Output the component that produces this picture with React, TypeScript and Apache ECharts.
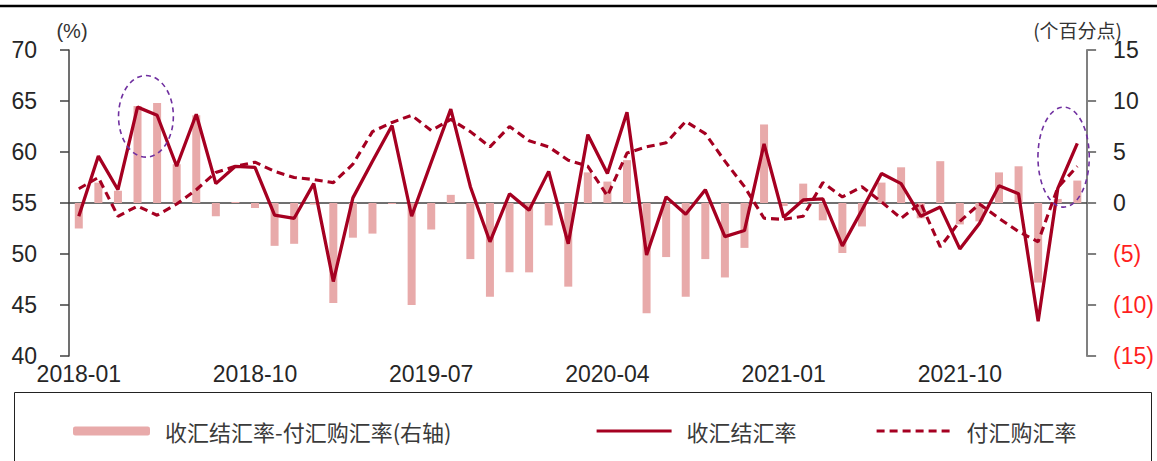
import React, { useEffect, useRef } from "react";
import * as echarts from "echarts";

// ---- data ----
const months = [
  "2018-01", "2018-02", "2018-03", "2018-04", "2018-05", "2018-06", "2018-07", "2018-08", "2018-09", "2018-10", "2018-11", "2018-12",
  "2019-01", "2019-02", "2019-03", "2019-04", "2019-05", "2019-06", "2019-07", "2019-08", "2019-09", "2019-10", "2019-11", "2019-12",
  "2020-01", "2020-02", "2020-03", "2020-04", "2020-05", "2020-06", "2020-07", "2020-08", "2020-09", "2020-10", "2020-11", "2020-12",
  "2021-01", "2021-02", "2021-03", "2021-04", "2021-05", "2021-06", "2021-07", "2021-08", "2021-09", "2021-10", "2021-11", "2021-12",
  "2022-01", "2022-02", "2022-03", "2022-04",
];

// 收汇结汇率 (%)
const settleRate = [
  53.7, 59.6, 56.3, 64.4, 63.6, 58.6, 63.7, 56.9, 58.6, 58.5, 53.8, 53.5,
  56.9, 47.3, 55.5, 59.1, 62.6, 53.7, 59.0, 64.2, 56.6, 51.2, 55.9, 54.3,
  58.1, 51.0, 61.7, 57.9, 63.9, 49.9, 55.6, 53.9, 56.3, 51.7, 52.3, 60.8,
  53.6, 55.3, 55.4, 50.8, 54.3, 57.9, 56.9, 53.7, 54.6, 50.5, 53.0, 56.7,
  55.9, 43.4, 56.4, 60.85,
];

// 付汇购汇率 (%)
const purchaseRate = [
  56.4, 57.5, 53.7, 54.7, 53.8, 54.9, 56.3, 58.0, 58.6, 59.0, 58.1, 57.5,
  57.3, 57.0, 58.8, 62.0, 62.9, 63.6, 62.1, 63.2, 62.0, 60.5, 62.5, 61.1,
  60.5, 59.2, 58.6, 55.7, 59.9, 60.5, 60.9, 63.0, 61.8, 59.1, 56.6, 53.5,
  53.4, 53.7, 57.0, 55.6, 56.6, 55.1, 53.5, 55.0, 50.7, 53.2, 54.9, 53.5,
  52.2, 51.2, 56.5, 58.6,
];

// 收汇结汇率-付汇购汇率 (个百分点, 右轴)
const rateGap = [
  -2.5, 2.0, 1.2, 9.5, 9.8, 3.8, 8.6, -1.3, 0.1, -0.5, -4.2, -4.0,
  -0.15, -9.8, -3.4, -3.0, -0.1, -10.0, -2.6, 0.8, -5.5, -9.2, -6.8, -6.8,
  -2.2, -8.2, 3.0, 2.1, 4.2, -10.8, -5.3, -9.2, -5.5, -7.3, -4.4, 7.7,
  -0.3, 1.9, -1.7, -4.9, -2.3, 2.0, 3.5, -1.5, 4.1, -2.1, -1.8, 3.0,
  3.6, -7.8, 0.4, 2.2,
];

const leftAxisRange = [40, 70, 5];
const rightAxisRange = [-15, 15, 5];

const seriesNames = ["收汇结汇率-付汇购汇率(右轴)", "收汇结汇率", "付汇购汇率"];
const leftUnit = "(%)";
const rightUnit = "(个百分点)";

// highlighted regions: [centre category index, centre value, half-width in categories, half-height in value]
const highlights = [
  [3.43, 63.5, 1.4, 4.0],
  [50.3, 59.5, 1.31, 4.9],
];

const LINE_COLOR = "#A50021";
const BAR_COLOR = "#E8AAAA";
const TEXT = "#262626";
const CJK = "'Noto Sans CJK SC', 'Noto Sans', sans-serif";
const LATIN = "'Liberation Sans', Arial, sans-serif";

export default function App() {
  const ref = useRef<HTMLDivElement>(null);

  useEffect(() => {
    if (!ref.current) return;
    const chart = echarts.init(ref.current, undefined, { renderer: "svg" });

    const legendText = {
      fontFamily: CJK,
      fontSize: 22,
      color: "#3a3a3a",
      padding: [0, 0, 0, 10],
    };
    const lineLegendExtras = {
      itemStyle: { opacity: 0, borderWidth: 0 },
      lineStyle: { width: 3.2 },
    };

    chart.setOption({
      animation: false,
      backgroundColor: "#ffffff",
      grid: { left: 69, right: 66, top: 50, bottom: 105, containLabel: false },
      legend: [
        {
          data: [seriesNames[0]],
          left: 68,
          top: 415,
          itemWidth: 77,
          itemHeight: 9,
          textStyle: legendText,
          selectedMode: false,
        },
        {
          data: [seriesNames[1]],
          left: 590,
          top: 415,
          itemWidth: 75,
          itemHeight: 9,
          textStyle: legendText,
          selectedMode: false,
          ...lineLegendExtras,
        },
        {
          data: [seriesNames[2]],
          left: 870,
          top: 415,
          itemWidth: 75,
          itemHeight: 9,
          textStyle: legendText,
          selectedMode: false,
          ...lineLegendExtras,
        },
      ],
      xAxis: {
        type: "category",
        data: months,
        boundaryGap: true,
        axisLine: { show: true, lineStyle: { color: "#404040", width: 1.5 } },
        axisTick: { show: false },
        axisLabel: {
          interval: 8,
          fontFamily: LATIN,
          fontSize: 23,
          lineHeight: 18,
          color: TEXT,
          margin: 9,
        },
        splitLine: { show: false },
      },
      yAxis: [
        {
          type: "value",
          position: "left",
          min: leftAxisRange[0],
          max: leftAxisRange[1],
          interval: leftAxisRange[2],
          axisLine: { show: true, lineStyle: { color: "#404040", width: 1.5 } },
          axisTick: { show: true, length: 9, lineStyle: { color: "#404040", width: 1.5 } },
          axisLabel: { fontFamily: LATIN, fontSize: 23, lineHeight: 16, color: TEXT, margin: 32 },
          splitLine: { show: false },
        },
        {
          type: "value",
          position: "right",
          min: rightAxisRange[0],
          max: rightAxisRange[1],
          interval: rightAxisRange[2],
          axisLine: { show: true, lineStyle: { color: "#808080", width: 2 } },
          axisTick: { show: true, length: 9, lineStyle: { color: "#808080", width: 2 } },
          axisLabel: {
            fontFamily: LATIN,
            fontSize: 23,
            lineHeight: 16,
            margin: 26,
            formatter: (v: number) => (v < 0 ? `(${Math.abs(v)})` : `${v}`),
            color: (v: any) => (Number(v) < 0 ? "#FF1F1F" : TEXT),
          },
          splitLine: { show: false },
        },
      ],
      series: [
        {
          name: seriesNames[0],
          type: "bar",
          yAxisIndex: 1,
          data: rateGap,
          barWidth: 8,
          itemStyle: { color: BAR_COLOR },
        },
        {
          name: seriesNames[1],
          type: "line",
          yAxisIndex: 0,
          data: settleRate,
          symbol: "none",
          lineStyle: { color: LINE_COLOR, width: 3.3 },
          itemStyle: { color: LINE_COLOR },
        },
        {
          name: seriesNames[2],
          type: "line",
          yAxisIndex: 0,
          data: purchaseRate,
          symbol: "none",
          lineStyle: { color: LINE_COLOR, width: 3.1, type: [8, 5] },
          itemStyle: { color: LINE_COLOR },
        },
      ],
    });

    const toPx = (idx: number, val: number) => {
      const i0 = Math.floor(idx);
      const f = idx - i0;
      const a = chart.convertToPixel({ xAxisIndex: 0, yAxisIndex: 0 }, [i0, val]) as number[];
      const b = chart.convertToPixel({ xAxisIndex: 0, yAxisIndex: 0 }, [i0 - 1, val]) as number[];
      const step = a[0] - b[0];
      return [a[0] + step * f, a[1]];
    };

    const ellipses = highlights.map(([ci, cv, hw, hh]) => {
      const c = toPx(ci, cv);
      const e = toPx(ci + hw, cv + hh);
      return {
        type: "ellipse",
        shape: { cx: c[0], cy: c[1], rx: Math.abs(e[0] - c[0]), ry: Math.abs(c[1] - e[1]) },
        style: { fill: "none", stroke: "#7030A0", lineWidth: 1.6, lineDash: [5, 4] },
        z: 20,
      };
    });

    chart.setOption({
      graphic: [
        {
          type: "line",
          shape: { x1: 0, y1: 6, x2: 1157, y2: 6 },
          style: { stroke: "#000000", lineWidth: 2.5 },
        },
        {
          type: "rect",
          shape: { x: 14.5, y: 392.5, width: 1137, height: 120 },
          style: { fill: "none", stroke: "#222222", lineWidth: 1 },
        },
        {
          type: "text",
          x: 72,
          y: 31,
          style: {
            text: leftUnit,
            fontFamily: LATIN,
            fontSize: 20,
            fill: "#333333",
            align: "center",
            verticalAlign: "middle",
          },
        },
        {
          type: "text",
          x: 1122,
          y: 29,
          style: {
            text: rightUnit,
            fontFamily: CJK,
            fontSize: 19,
            lineHeight: 18,
            fill: "#333333",
            align: "right",
            verticalAlign: "middle",
          },
        },
        ...ellipses,
      ],
    });

    return () => chart.dispose();
  }, []);

  return (
    <div
      ref={ref}
      style={{ position: "fixed", left: 0, top: 0, width: 1157, height: 461, background: "#fff" }}
    />
  );
}
